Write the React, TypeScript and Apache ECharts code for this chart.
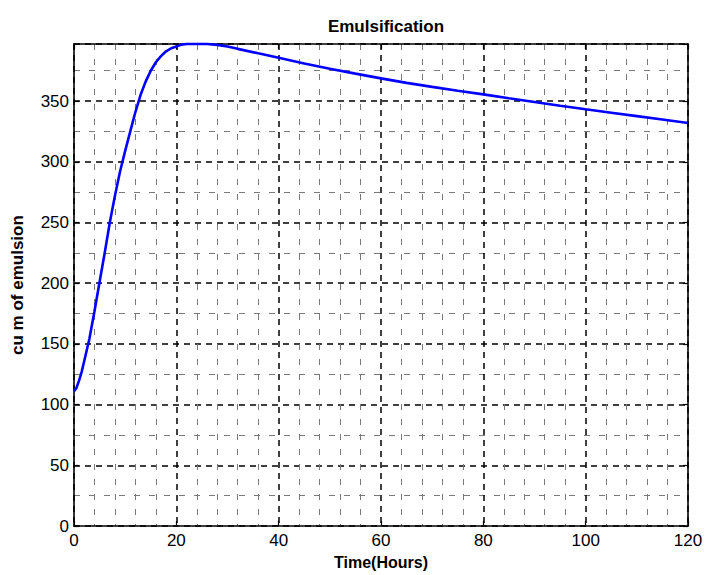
import React, { useEffect, useRef } from "react";
import * as echarts from "echarts";

const titleText = "Emulsification";
const xName = "Time(Hours)";
const yName = "cu m of emulsion";

const times = [0, 0.5, 1, 1.5, 2, 2.5, 3, 4, 5, 6, 7, 8, 9, 10, 11, 12, 13, 14, 15, 16, 17, 18, 19, 20, 21, 22, 24, 26, 28, 30, 32, 36, 40, 45, 50, 55, 60, 65, 70, 75, 80, 85, 90, 95, 100, 105, 110, 115, 120];
const emulsion = [111, 114, 120, 127, 136, 145, 154, 177, 201, 225, 250, 272, 292, 309, 325, 341, 355, 366, 375, 382, 387, 391, 393.5, 395, 396.5, 397, 397, 397, 396.3, 395, 393, 389.3, 385.7, 381, 376.7, 372.6, 368.7, 365, 361.7, 358.5, 355.5, 352.3, 349.3, 346.2, 343.2, 340.4, 337.6, 334.8, 332];

const xMin = 0;
const xMax = 120;
const xStep = 20;
const yMin = 0;
const yMax = 397;
const yStep = 50;

export default function App() {
  const ref = useRef<HTMLDivElement>(null);
  useEffect(() => {
    if (!ref.current) return;
    const chart = echarts.init(ref.current, null, { renderer: "svg" });
    const font = "'Liberation Sans', Arial, Helvetica, sans-serif";
    const majorSplit = { show: true, lineStyle: { color: "#000", width: 1.5, type: [6, 5] as any } };
    const minorSplit = { show: true, lineStyle: { color: "#7a7a7a", width: 1, type: [6, 9] as any } };
    const baseX = {
      type: "value" as const,
      min: xMin,
      max: xMax,
      interval: xStep,
      axisLine: { show: true, onZero: false, lineStyle: { color: "#000", width: 1.6 } },
      axisTick: { show: true, inside: true, length: 5, lineStyle: { color: "#000", width: 1.2 } },
    };
    const baseY = {
      type: "value" as const,
      min: yMin,
      max: yMax,
      interval: yStep,
      axisLine: { show: true, onZero: false, lineStyle: { color: "#000", width: 1.6 } },
      axisTick: { show: true, inside: true, length: 5, lineStyle: { color: "#000", width: 1.2 } },
    };
    chart.setOption({
      animation: false,
      backgroundColor: "#fff",
      title: {
        text: titleText,
        left: 381,
        textAlign: "center",
        top: 13,
        textStyle: { fontFamily: font, fontSize: 17, fontWeight: "bold", color: "#000" },
      },
      grid: { left: 74, right: 18, top: 44, bottom: 48, containLabel: false },
      xAxis: [
        {
          ...baseX,
          position: "bottom",
          name: xName,
          nameLocation: "middle",
          nameGap: 25,
          nameTextStyle: { fontFamily: font, fontSize: 16, fontWeight: "bold", color: "#000" },
          axisLabel: { show: true, color: "#000", fontFamily: font, fontSize: 17, margin: 6 },
          splitLine: majorSplit,
          minorTick: { show: false, splitNumber: 5 },
          minorSplitLine: minorSplit,
        },
        {
          ...baseX,
          position: "top",
          axisLabel: { show: false },
          splitLine: { show: false },
        },
      ],
      yAxis: [
        {
          ...baseY,
          position: "left",
          name: yName,
          nameLocation: "middle",
          nameGap: 48,
          nameTextStyle: { fontFamily: font, fontSize: 17, fontWeight: "bold", color: "#000" },
          axisLabel: { show: true, color: "#000", fontFamily: font, fontSize: 17, margin: 5, showMaxLabel: false },
          splitLine: majorSplit,
          minorTick: { show: false, splitNumber: 2 },
          minorSplitLine: minorSplit,
        },
        {
          ...baseY,
          position: "right",
          axisLabel: { show: false },
          splitLine: { show: false },
        },
      ],
      series: [
        {
          type: "line",
          xAxisIndex: 0,
          yAxisIndex: 0,
          data: times.map((t, i) => [t, emulsion[i]]),
          showSymbol: false,
          smooth: false,
          clip: false,
          lineStyle: { color: "#0000ff", width: 2.6 },
          z: 10,
        },
      ],
    });
    return () => chart.dispose();
  }, []);
  return (
    <div
      ref={ref}
      style={{ position: "fixed", left: 0, top: 0, width: 706, height: 575, background: "#fff" }}
    />
  );
}
